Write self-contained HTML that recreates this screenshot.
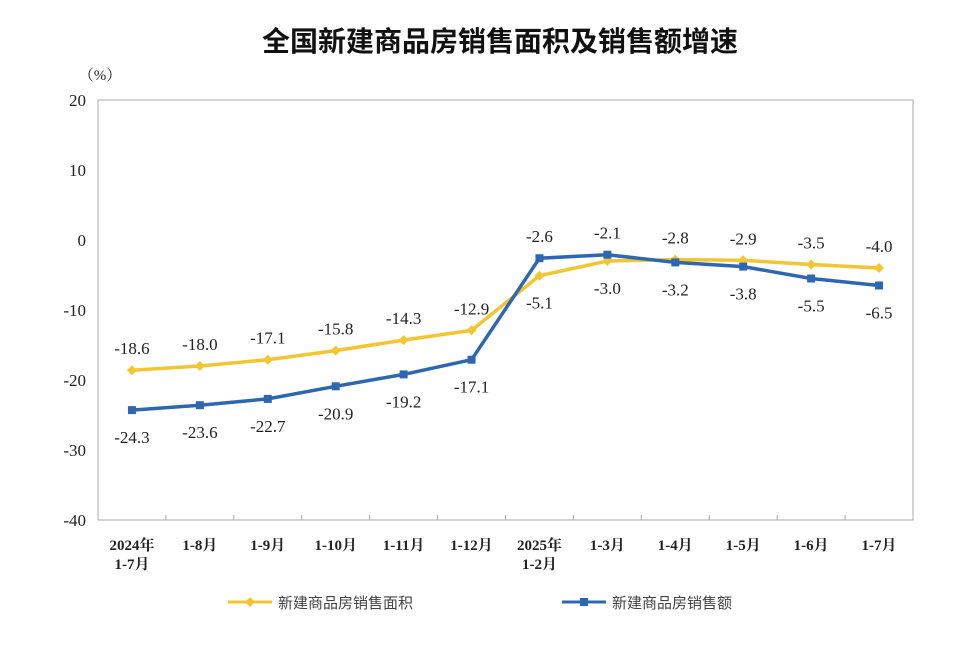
<!DOCTYPE html>
<html><head><meta charset="utf-8"><style>
body{margin:0;background:#fff;}
svg text{font-family:"Liberation Serif","Noto Serif CJK SC",serif;}
</style></head><body>
<svg id="c" width="970" height="642" xmlns="http://www.w3.org/2000/svg">
<text x="500" y="51" text-anchor="middle" font-size="28" font-weight="bold" fill="#111" style="font-family:'Liberation Sans','Noto Sans CJK SC',sans-serif">全国新建商品房销售面积及销售额增速</text>
<text x="100" y="80" text-anchor="middle" font-size="15" fill="#222">（%）</text>
<rect x="98" y="100" width="815" height="420" fill="none" stroke="#aaa" stroke-width="1"/>
<g id="g"></g>
<g>
<g>
<line x1="228" y1="602" x2="272" y2="602" stroke="#f2c531" stroke-width="3"/>
<path d="M250 597 L255 602 L250 607 L245 602Z" fill="#f2c531"/>
<text x="278" y="608" font-size="15" fill="#444" style="font-family:'Liberation Sans','Noto Sans CJK SC',sans-serif">新建商品房销售面积</text></g>
<g>
<line x1="562" y1="602" x2="606" y2="602" stroke="#2e67b1" stroke-width="3"/>
<rect x="580" y="598" width="8" height="8" fill="#2e67b1"/>
<text x="612" y="608" font-size="15" fill="#444" style="font-family:'Liberation Sans','Noto Sans CJK SC',sans-serif">新建商品房销售额</text></g>
</g>
</svg>
<script>
const categories=[["2024年","1-7月"],["1-8月"],["1-9月"],["1-10月"],["1-11月"],["1-12月"],["2025年","1-2月"],["1-3月"],["1-4月"],["1-5月"],["1-6月"],["1-7月"]];
const areaValues=[-18.6,-18.0,-17.1,-15.8,-14.3,-12.9,-5.1,-3.0,-2.8,-2.9,-3.5,-4.0];
const salesValues=[-24.3,-23.6,-22.7,-20.9,-19.2,-17.1,-2.6,-2.1,-3.2,-3.8,-5.5,-6.5];
const yTicks=[20,10,0,-10,-20,-30,-40];
const L=98,R=913,T=100,B=520,ymax=20,ymin=-40;
const step=(R-L)/categories.length;
const x=i=>L+step*(i+0.5);
const y=v=>T+(ymax-v)/(ymax-ymin)*(B-T);
const NS="http://www.w3.org/2000/svg";
const g=document.getElementById('g');
function mk(t,a,txt){const e=document.createElementNS(NS,t);for(const k in a)e.setAttribute(k,a[k]);if(txt!=null)e.textContent=txt;g.appendChild(e);return e;}
yTicks.forEach(v=>{
const e=mk('text',{x:L-12,y:y(v)+6,'text-anchor':'end','font-size':17,fill:'#222'},v);


});
for(let i=1;i<categories.length;i++){
const e=mk('line',{x1:L+step*i,x2:L+step*i,y1:B,y2:B-5,stroke:'#aaa'});


}
categories.forEach((c,i)=>{c.forEach((s,j)=>{
const e=mk('text',{x:x(i),y:B+30+j*19,'text-anchor':'middle','font-size':15,'font-weight':'bold',fill:'#222'},s);


});});
function series(vals,color,name,marker,above){
const p=mk('polyline',{points:vals.map((v,i)=>x(i)+','+y(v)).join(' '),fill:'none',stroke:color,'stroke-width':3.5});


vals.forEach((v,i)=>{
let m;
if(marker==='d')m=mk('path',{d:`M${x(i)} ${y(v)-5}L${x(i)+5} ${y(v)}L${x(i)} ${y(v)+5}L${x(i)-5} ${y(v)}Z`,fill:color});
else m=mk('rect',{x:x(i)-4,y:y(v)-4,width:8,height:8,fill:color});


const up=above(i);
const t=mk('text',{x:x(i),y:up?y(v)-16:y(v)+33,'text-anchor':'middle','font-size':17,fill:'#222'},v.toFixed(1));


});
}
series(areaValues,'#f2c531','area','d',i=>i<6||i>=8);
series(salesValues,'#2e67b1','sales','s',i=>i===6||i===7);
</script>
</body></html>
